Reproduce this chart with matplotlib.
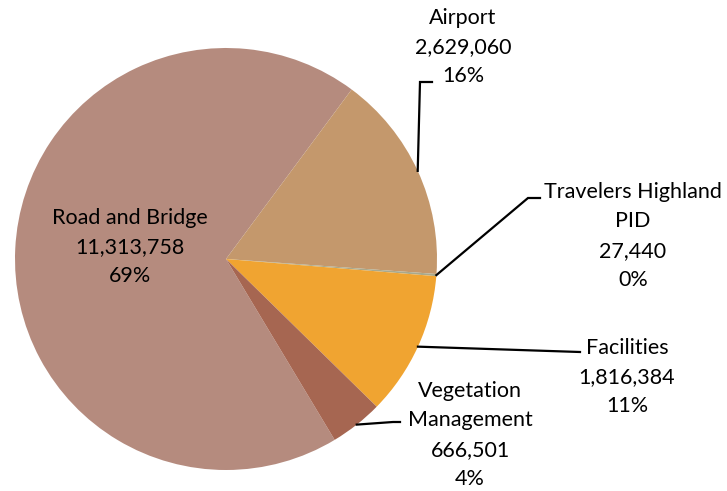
import numpy as np
import matplotlib
matplotlib.use("Agg")
import matplotlib.pyplot as plt

# dữ liệu
categories = ["Road and Bridge", "Airport", "Travelers Highland\nPID", "Facilities", "Vegetation\nManagement"]
values = [11313758, 2629060, 27440, 1816384, 666501]
percents = ["69%", "16%", "0%", "11%", "4%"]
colors = ["#B58B7E", "#C4986C", "#A9A98C", "#F0A431", "#A66651"]

W, H = 727, 491
CX, CY, R = 226, H - 259, 211

plt.rcParams['font.family'] = ['Lato', 'DejaVu Sans']

fig = plt.figure(figsize=(W / 100, H / 100), dpi=100)
ax = fig.add_axes([0, 0, 1, 1])

wedges, _ = ax.pie(values, colors=colors, startangle=-59, counterclock=False,
                   center=(CX, CY), radius=R, frame=True,
                   wedgeprops=dict(linewidth=0))
ax.set_xlim(0, W)
ax.set_ylim(0, H)
ax.set_aspect('equal')
ax.axis('off')

def label_text(i):
    return f"{categories[i]}\n{values[i]:,}\n{percents[i]}"

# vị trí nhãn (pixel, gốc trên-trái) và điểm gấp khúc của đường dẫn
label_pos = {1: (463, 47), 2: (633, 236), 3: (627, 377), 4: (470, 435)}
elbows = {1: [(420, 82), (432, 82)],
          2: [(528, 198), (540, 198)],
          3: [(580, 352)],
          4: [(393, 422), (400, 422)]}

fs = 15.5
ls = 1.58
ax.text(130, H - 247, label_text(0), ha='center', va='center', fontsize=fs,
        linespacing=ls)

for i in range(1, len(values)):
    w = wedges[i]
    mid = np.deg2rad((w.theta1 + w.theta2) / 2)
    x0 = CX + R * np.cos(mid)
    y0 = CY + R * np.sin(mid)
    pts = [(x0, y0)] + [(x, H - y) for x, y in elbows[i]]
    xs, ys = zip(*pts)
    ax.plot(xs, ys, color='black', lw=1.6, solid_joinstyle='miter')
    lx, ly = label_pos[i]
    ax.text(lx, H - ly, label_text(i), ha='center', va='center', fontsize=fs,
            linespacing=ls)

fig.savefig("out.png", dpi=100)
